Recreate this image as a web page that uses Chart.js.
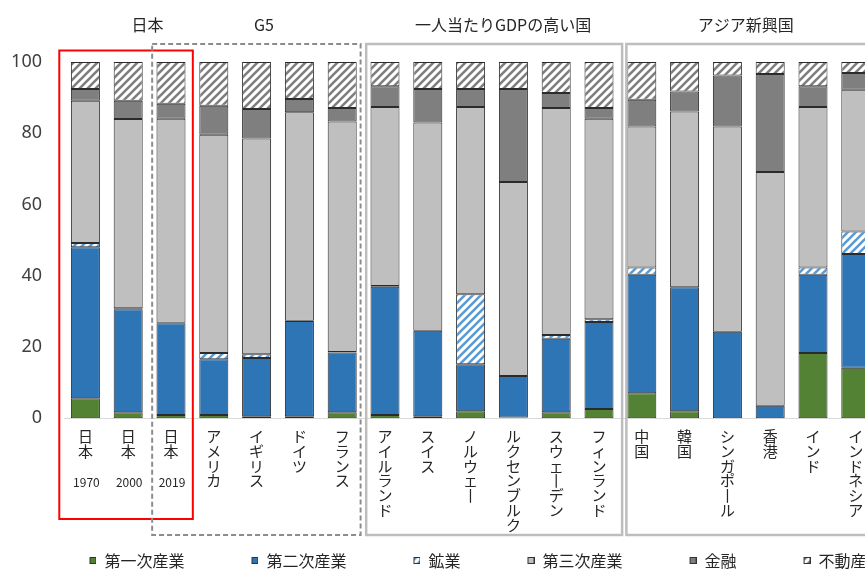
<!DOCTYPE html>
<html><head><meta charset="utf-8">
<script src="https://cdn.jsdelivr.net/npm/chart.js@4.4.1/dist/chart.umd.min.js"></script>
<style>html,body{margin:0;padding:0;overflow:hidden;background:#fff;width:865px;height:569px}canvas{display:block}</style>
</head><body>
<canvas id="c" width="911" height="579"></canvas>
<script>
const categories = ['日本','日本','日本','アメリカ','イギリス','ドイツ','フランス','アイルランド','スイス','ノルウェー','ルクセンブルク','スウェーデン','フィンランド','中国','韓国','シンガポール','香港','インド','インドネシア'];
const years = ['1970','2000','2019'];
const groupNames = ['日本','G5','一人当たりGDPの高い国','アジア新興国'];
const seriesNames = ['第一次産業','第二次産業','鉱業','第三次産業','金融','不動産業'];
const primary   = [5.6, 1.7, 0.9, 0.9, 0.6, 0.6, 1.7, 0.9, 0.6, 2.0, 0.2, 1.7, 2.6, 7.0, 2.0, 0, 0, 18.3, 14.2];
const secondary = [42.4, 28.9, 25.8, 15.7, 16.3, 26.7, 16.8, 36.0, 24.0, 13.2, 11.7, 20.6, 24.4, 33.3, 34.8, 24.3, 3.5, 22.0, 31.9];
const mining    = [1.2, 0.3, 0.1, 1.7, 1.1, 0.1, 0.1, 0.2, 0, 19.6, 0, 1.1, 0.8, 2.0, 0, 0, 0, 2.0, 6.3];
const tertiary  = [39.9, 53.1, 57.3, 61.3, 60.5, 58.5, 64.7, 50.3, 58.4, 52.6, 54.4, 63.7, 56.3, 39.6, 49.3, 57.6, 65.6, 45.1, 39.8];
const finance   = [3.3, 5.1, 4.2, 8.1, 8.3, 3.7, 3.8, 5.8, 9.4, 5.0, 26.1, 4.2, 3.0, 7.5, 5.6, 14.3, 27.5, 5.8, 4.7];
const realEstate= [7.6, 10.9, 11.7, 12.3, 13.2, 10.4, 12.9, 6.8, 7.6, 7.6, 7.6, 8.7, 12.9, 10.6, 8.3, 3.8, 3.4, 6.8, 3.1];
const yTicks = [0, 20, 40, 60, 80, 100];

const FONT = "'Noto Sans CJK JP', 'Noto Sans', sans-serif";
const ctx = document.getElementById('c').getContext('2d');

// vertical (tategaki) form: the long vowel mark is written as a vertical stroke
const verticalLabels = categories.map(s => Array.from(s).map(ch => ch === '\u30FC' ? '\u4E28' : ch));

function makePattern(color) {
  const s = 8;
  const c = document.createElement('canvas'); c.width = s; c.height = s;
  const g = c.getContext('2d');
  g.fillStyle = '#ffffff'; g.fillRect(0, 0, s, s);
  g.strokeStyle = color; g.lineWidth = 2.6;
  g.beginPath();
  g.moveTo(-2, s + 2); g.lineTo(s + 2, -2);
  g.moveTo(-2, 2); g.lineTo(2, -2);
  g.moveTo(s - 2, s + 2); g.lineTo(s + 2, s - 2);
  g.stroke();
  return ctx.createPattern(c, 'repeat');
}

const LEG_W = 68, SQ = 6;
function legendMarker(fill, stroke) {
  const c = document.createElement('canvas'); c.width = LEG_W; c.height = SQ + 2;
  const g = c.getContext('2d');
  g.fillStyle = fill; g.fillRect(LEG_W - SQ - 1, 1, SQ, SQ);
  g.strokeStyle = stroke; g.lineWidth = 1;
  g.strokeRect(LEG_W - SQ - 0.5, 0.5, SQ, SQ);
  return c;
}

const groupPlugin = {
  id: 'groups',
  afterDraw(chart, args, opts) {
    const c = chart.ctx, x = chart.scales.x;
    const step = x.getPixelForValue(1) - x.getPixelForValue(0);
    const px = i => x.getPixelForValue(0) + i * step;
    c.save();
    opts.boxes.forEach(b => {
      c.beginPath();
      c.lineWidth = b.width; c.strokeStyle = b.color; c.setLineDash(b.dash || []);
      const l = px(b.from), r = px(b.to);
      c.strokeRect(l, b.top, r - l, b.bottom - b.top);
    });
    c.setLineDash([]);
    c.fillStyle = '#262626';
    c.font = '16px ' + FONT;
    c.textAlign = 'center'; c.textBaseline = 'middle';
    groupNames.forEach((t, i) => c.fillText(t, px(opts.headerAt[i]), opts.headerY));
    c.font = '12px ' + FONT;
    years.forEach((t, i) => c.fillText(t, px(i) + 1, opts.yearY));
    c.restore();
  }
};

const ds = { borderColor: '#2b2b2b', borderWidth: 1, borderSkipped: false, barPercentage: 0.678, categoryPercentage: 1 };
const fills = ['#548235', '#2e75b6', makePattern('#5b9bd5'), '#bfbfbf', '#7f7f7f', makePattern('#7f7f7f')];
const series = [primary, secondary, mining, tertiary, finance, realEstate];

new Chart(ctx, {
  type: 'bar',
  data: {
    labels: categories,
    datasets: series.map((d, i) => ({ label: seriesNames[i], data: d, backgroundColor: fills[i], ...ds }))
  },
  options: {
    responsive: false, animation: false, devicePixelRatio: 1,
    layout: { padding: { top: 62, left: 0, right: 0, bottom: 0 } },
    plugins: {
      tooltip: { enabled: false },
      legend: {
        position: 'bottom', align: 'center',
        labels: {
          usePointStyle: true, pointStyleWidth: LEG_W, boxHeight: 16, padding: 6,
          color: '#262626', font: { family: FONT, size: 16 },
          generateLabels(chart) {
            const items = Chart.defaults.plugins.legend.labels.generateLabels(chart);
            items.forEach((it, i) => { it.pointStyle = legendMarker(fills[i], '#333'); });
            return items;
          }
        }
      },
      groups: {
        boxes: [
          { from: -0.61, to: 2.51, top: 50.5, bottom: 519, color: '#ff0000', width: 2 },
          { from: 1.56, to: 6.43, top: 44, bottom: 535, color: '#8c8c8c', width: 2, dash: [5, 3] },
          { from: 6.56, to: 12.54, top: 44, bottom: 535, color: '#bdbdbd', width: 2.5 },
          { from: 12.64, to: 21, top: 44, bottom: 535, color: '#bdbdbd', width: 2.5 }
        ],
        headerAt: [1.45, 4.17, 9.76, 15.43],
        headerY: 25,
        yearY: 482.5
      }
    },
    scales: {
      x: {
        stacked: true,
        grid: { display: false, drawTicks: false },
        border: { display: true, color: '#d9d9d9', width: 1 },
        ticks: {
          autoSkip: false, maxRotation: 0, minRotation: 0, padding: 11, color: '#262626',
          font: { family: FONT, size: 15, lineHeight: '14.7px' },
          callback(v, i) { return verticalLabels[i]; }
        },
        afterFit(s) { s.height = 128.7; }
      },
      y: {
        stacked: true, min: 0, max: 100,
        afterBuildTicks(s) { s.ticks = yTicks.map(v => ({ value: v })); },
        ticks: { padding: 22, color: '#404040', font: { family: "'Noto Sans', sans-serif", size: 18 } },
        grid: { display: false, drawTicks: false },
        border: { display: false },
        afterFit(s) { s.width = 64; }
      },
      yR: {
        position: 'right', display: true,
        grid: { display: false, drawTicks: false },
        border: { display: false },
        ticks: { display: false },
        afterFit(s) { s.width = 33.8; }
      }
    }
  },
  plugins: [groupPlugin]
});
</script>
</body></html>
